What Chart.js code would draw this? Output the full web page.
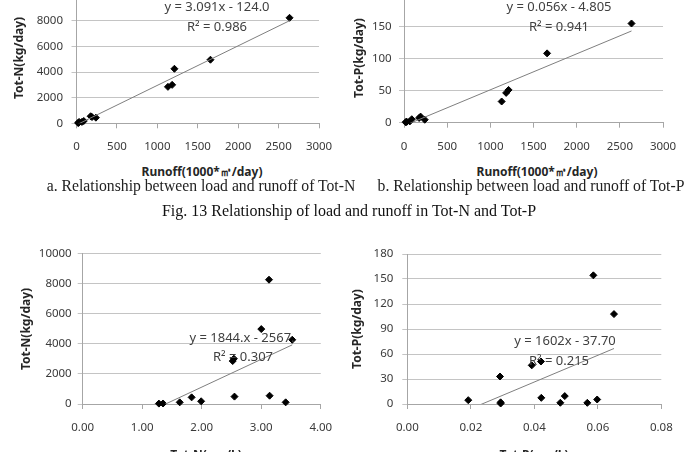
<!DOCTYPE html>
<html lang="en">
<head>
<meta charset="UTF-8">
<title>Load vs runoff and concentration</title>
<script src="https://cdn.jsdelivr.net/npm/chart.js"></script>
<style>
    * { margin: 0; padding: 0; box-sizing: border-box; }
    body { width: 688px; height: 452px; overflow: hidden; background: #fff; position: relative; font-family: 'Noto Sans', sans-serif; }
    canvas { position: absolute; }
    .ytitle { position: absolute; font-weight: 700; font-size: 12px; color: #262626; transform: translate(-50%, -50%) rotate(-90deg); white-space: nowrap; }
    .xtitle { position: absolute; font-weight: 700; font-size: 12px; color: #262626; transform: translate(-50%, -50%); white-space: nowrap; }
    .eq { position: absolute; font-size: 13px; color: #404040; transform: translate(-50%, -50%); white-space: nowrap; }
    .cap { position: absolute; font-family: 'Liberation Serif', serif; font-size: 15.7px; color: #222; transform: translate(-50%, -50%); white-space: nowrap; }
    .cap.fig { font-size: 16px; color: #111; }
</style>
</head>
<body>

<canvas id="c1" width="344" height="180" style="left:0;top:-20px"></canvas>
<canvas id="c2" width="344" height="180" style="left:344px;top:-20px"></canvas>
<canvas id="c3" width="344" height="216" style="left:0;top:236px"></canvas>
<canvas id="c4" width="344" height="216" style="left:344px;top:236px"></canvas>

<!-- axis titles -->
<div class="ytitle" style="left:18px;top:58px">Tot-N(kg/day)</div>
<div class="ytitle" style="left:358px;top:58px">Tot-P(kg/day)</div>
<div class="ytitle" style="left:25px;top:329px">Tot-N(kg/day)</div>
<div class="ytitle" style="left:356px;top:329px">Tot-P(kg/day)</div>
<div class="xtitle" style="left:202px;top:172px">Runoff(1000*㎥/day)</div>
<div class="xtitle" style="left:537px;top:172px">Runoff(1000*㎥/day)</div>
<div class="xtitle" style="left:206px;top:454px">Tot-N(mg/L)</div>
<div class="xtitle" style="left:534px;top:454px">Tot-P(mg/L)</div>

<!-- trendline labels -->
<div class="eq" style="left:217px;top:6px">y = 3.091x - 124.0</div>
<div class="eq" style="left:217px;top:26px">R² = 0.986</div>
<div class="eq" style="left:559px;top:6px">y = 0.056x - 4.805</div>
<div class="eq" style="left:559px;top:26px">R² = 0.941</div>
<div class="eq" style="left:242px;top:337px">y = 1844.x - 2567.</div>
<div class="eq" style="left:243px;top:356px">R² = 0.307</div>
<div class="eq" style="left:565px;top:340px">y = 1602x - 37.70</div>
<div class="eq" style="left:559px;top:360px">R² = 0.215</div>

<!-- captions -->
<div class="cap" style="left:201px;top:186px">a. Relationship between load and runoff of Tot-N</div>
<div class="cap" style="left:531px;top:186px">b. Relationship between load and runoff of Tot-P</div>
<div class="cap fig" style="left:349px;top:211px">Fig. 13 Relationship of load and runoff in Tot-N and Tot-P</div>

<script>
    // station data (13 stations)
    const runoff   = [20, 25, 32, 67, 90, 175, 192, 240, 1131, 1183, 1211, 1657, 2635];
    const totNLoad = [26, 34, 110, 110, 180, 550, 490, 440, 2850, 3005, 4263, 4971, 8248];
    const totPLoad = [0.6, 1.4, 1.5, 2.0, 5.4, 7.4, 9.5, 4.6, 33.0, 46.4, 51.0, 107.9, 154.4];
    const totNConc = [1.28, 1.35, 3.41, 1.63, 1.99, 3.14, 2.55, 1.83, 2.52, 2.54, 3.52, 3.00, 3.13];
    const totPConc = [0.0294, 0.0567, 0.0482, 0.0294, 0.0598, 0.0422, 0.0496, 0.0192, 0.0292, 0.0392, 0.0421, 0.0651, 0.0586];

    // linear trendlines [slope, intercept]
    const fitNRunoff = [3.091, -124.0];
    const fitPRunoff = [0.056, -4.805];
    const fitNConc   = [1844, -2567];
    const fitPConc   = [1602, -37.70];

    const tickFont = { family: 'Noto Sans', size: 11.5 };
    const tickColor = '#3a3a3a';

    // canvas: position/size of canvas, plot: plot-area edges on the page
    function makeChart(id, xs, ys, fit, axes, canvas, plot) {
        const pts = xs.map((x, i) => ({ x: x, y: ys[i] }));
        const x0 = Math.min(...xs), x1 = Math.max(...xs);
        const line = [{ x: x0, y: fit[0] * x0 + fit[1] }, { x: x1, y: fit[0] * x1 + fit[1] }];
        const xAxisH = 30;

        new Chart(document.getElementById(id), {
            type: 'scatter',
            data: {
                datasets: [
                    { data: line, showLine: true, borderColor: '#7f7f7f', borderWidth: 1, pointRadius: 0, clip: 0 },
                    { data: pts, pointStyle: 'rectRot', pointRadius: 3.5, backgroundColor: '#000', borderColor: '#000', borderWidth: 1, clip: false }
                ]
            },
            options: {
                responsive: false,
                animation: false,
                layout: {
                    padding: {
                        left: 0,
                        top: plot.top - canvas.top,
                        right: canvas.left + canvas.width - plot.right,
                        bottom: canvas.top + canvas.height - plot.bottom - xAxisH
                    }
                },
                plugins: { legend: { display: false }, tooltip: { enabled: false } },
                scales: {
                    x: {
                        type: 'linear', min: 0, max: axes.xMax,
                        ticks: { stepSize: axes.xStep, padding: 11.8, color: tickColor, font: tickFont, maxRotation: 0,
                                 callback: v => axes.xFmt(v) },
                        grid: { drawOnChartArea: false, tickLength: 5, color: '#a6a6a6' },
                        border: { color: '#a6a6a6' },
                        afterFit: s => { s.height = xAxisH; }
                    },
                    y: {
                        min: 0, max: axes.yMax,
                        ticks: { stepSize: axes.yStep, padding: axes.yPad, color: tickColor, font: tickFont,
                                 callback: v => String(Math.round(v)) },
                        grid: { color: '#c4c4c4', tickLength: 5 },
                        border: { color: '#a6a6a6' },
                        afterFit: s => { s.width = plot.left - canvas.left; }
                    }
                }
            }
        });
    }

    const fmtInt = v => String(Math.round(v));
    const fmt2 = v => v.toFixed(2);

    makeChart('c1', runoff, totNLoad, fitNRunoff,
        { xMax: 3000, xStep: 500, xFmt: fmtInt, yMax: 10000, yStep: 2000, yPad: 8.5 },
        { left: 0, top: -20, width: 344, height: 180 },
        { left: 76.5, right: 326.7, top: -7.1, bottom: 123.3 });

    makeChart('c2', runoff, totPLoad, fitPRunoff,
        { xMax: 3000, xStep: 500, xFmt: fmtInt, yMax: 200, yStep: 50, yPad: 7.3 },
        { left: 344, top: -20, width: 344, height: 180 },
        { left: 404, right: 665, top: -7.7, bottom: 122.7 });

    makeChart('c3', totNConc, totNLoad, fitNConc,
        { xMax: 4, xStep: 1, xFmt: fmt2, yMax: 10000, yStep: 2000, yPad: 6 },
        { left: 0, top: 236, width: 344, height: 216 },
        { left: 82.7, right: 328.3, top: 253.3, bottom: 404 });

    makeChart('c4', totPConc, totPLoad, fitPConc,
        { xMax: 0.08, xStep: 0.02, xFmt: fmt2, yMax: 180, yStep: 30, yPad: 9 },
        { left: 344, top: 236, width: 344, height: 216 },
        { left: 407.3, right: 661.3, top: 254, bottom: 404 });
</script>

</body>
</html>
